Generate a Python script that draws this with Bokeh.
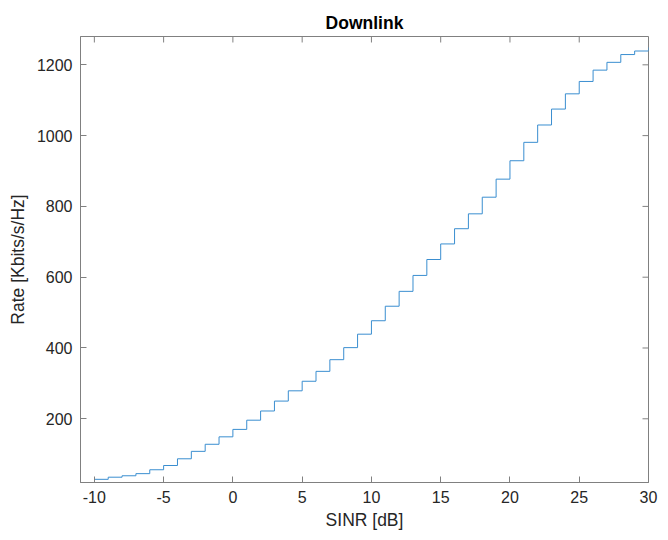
from bokeh.plotting import figure
from bokeh.models import Range1d, FixedTicker
from bokeh.embed import file_html
from bokeh.resources import INLINE

sinr_db = list(range(-10, 31))
rate_kbps = [29, 35, 39, 45, 56, 68, 87, 108, 128, 149,
             170, 196, 222, 250, 279, 306, 334, 367, 401, 439,
             477, 518, 560, 605, 650, 694, 737, 779, 826, 877,
             929, 981, 1030, 1075, 1118, 1153, 1185, 1207, 1229, 1239,
             1249]
x_ticks = [-10, -5, 0, 5, 10, 15, 20, 25, 30]
y_ticks = [200, 400, 600, 800, 1000, 1200]
x_lim = (-11, 30)
y_lim = (20, 1280)

FONT = "Liberation Sans"
AX = "#808080"
TXT = "#262626"

W, H = 660, 532
ML, MR, MT, MB = 80, 12, 36, 49
FW, FH = W - ML - MR, H - MT - MB

p = figure(width=W, height=H, output_backend="svg", toolbar_location=None,
           x_range=Range1d(*x_lim), y_range=Range1d(*y_lim),
           min_border_left=ML, min_border_right=MR, min_border_top=MT, min_border_bottom=MB,
           title="Downlink")
p.title.align = "center"
p.title.text_font = FONT
p.title.text_font_size = "17.5px"
p.title.text_font_style = "bold"
p.title.text_color = "#000000"
p.title.standoff = 8
p.title.offset = 0

p.xgrid.visible = False
p.ygrid.visible = False
p.outline_line_color = AX
p.background_fill_color = "white"
p.border_fill_color = "white"

p.step(sinr_db, rate_kbps, mode="after", line_color="#3a8ed0", line_width=1)

# inward ticks on the top and right edges (MATLAB box style)
tick_px = 6
dy = tick_px * (y_lim[1] - y_lim[0]) / FH
dx = tick_px * (x_lim[1] - x_lim[0]) / FW
p.segment(x0=x_ticks, x1=x_ticks, y0=[y_lim[1]] * len(x_ticks), y1=[y_lim[1] - dy] * len(x_ticks),
          line_color=AX, line_width=1)
p.segment(x0=[x_lim[1]] * len(y_ticks), x1=[x_lim[1] - dx] * len(y_ticks), y0=y_ticks, y1=y_ticks,
          line_color=AX, line_width=1)

def style(ax, ticks):
    ax.ticker = FixedTicker(ticks=ticks)
    ax.axis_line_color = AX
    ax.major_tick_line_color = AX
    ax.major_tick_in = tick_px
    ax.major_tick_out = 0
    ax.minor_tick_line_color = None
    ax.major_label_text_font = FONT
    ax.major_label_text_color = TXT
    ax.major_label_text_font_size = "16px"
    ax.major_label_standoff = 8
    ax.axis_label_text_font = FONT
    ax.axis_label_text_font_size = "17.5px"
    ax.axis_label_text_font_style = "normal"
    ax.axis_label_text_color = TXT

style(p.xaxis[0], x_ticks)
style(p.yaxis[0], y_ticks)
p.xaxis[0].major_label_overrides = {t: str(t) for t in x_ticks}
p.xaxis[0].axis_label = "SINR [dB]"
p.yaxis[0].axis_label = "Rate [Kbits/s/Hz]"
p.xaxis[0].axis_label_standoff = 4
p.yaxis[0].axis_label_standoff = 6

open("out.html", "w").write(file_html(p, INLINE))
